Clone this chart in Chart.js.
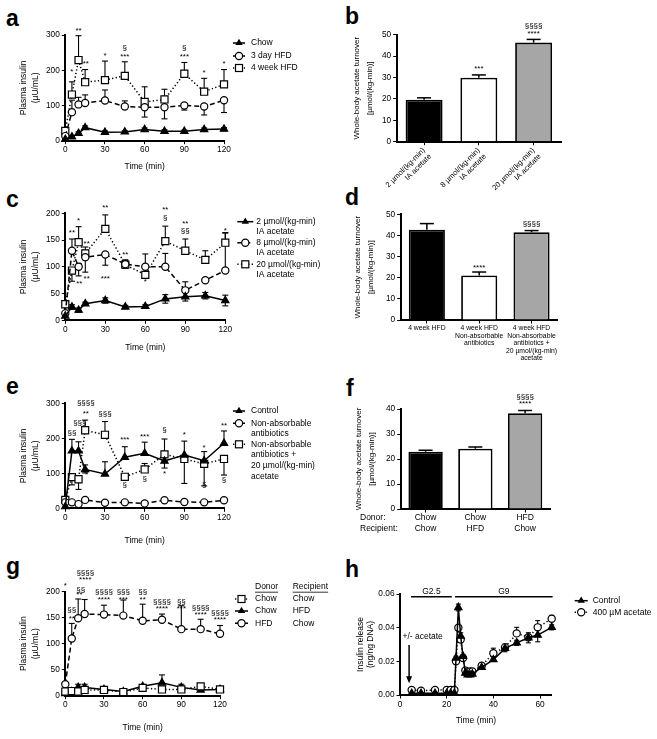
<!DOCTYPE html>
<html>
<head>
<meta charset="utf-8">
<title>Plasma insulin and whole-body acetate turnover</title>
<script src="https://cdn.jsdelivr.net/npm/chart.js@4.4.1/dist/chart.umd.min.js"></script>
<style>
  html, body { margin:0; padding:0; background:#fff; }
  #fig { position:relative; width:657px; height:739px; overflow:hidden; background:#fff; }
  #fig canvas { position:absolute; }
  .panel-letter { position:absolute; font-family:"Liberation Sans", Arial, Helvetica, sans-serif; font-weight:bold; font-size:23px; line-height:23px; color:#000; }
</style>
</head>
<body>
<div id="fig">
  <div class="panel-letter" style="left:6px; top:7px;">a</div>
  <div class="panel-letter" style="left:345px; top:5px;">b</div>
  <div class="panel-letter" style="left:6px; top:188px;">c</div>
  <div class="panel-letter" style="left:345px; top:186px;">d</div>
  <div class="panel-letter" style="left:6px; top:375px;">e</div>
  <div class="panel-letter" style="left:346px; top:377px;">f</div>
  <div class="panel-letter" style="left:6px; top:555px;">g</div>
  <div class="panel-letter" style="left:345px; top:558px;">h</div>
</div>
<script>
// ======================= DATA =======================
const timePoints = [0, 5, 10, 15, 30, 45, 60, 75, 90, 105, 120];
const timeTicks = [0, 30, 60, 90, 120];

// ---- panel a ----
const aYTicks = [0, 100, 200, 300];
const aChow = [4, 11, 21, 37, 24, 25, 32, 27, 27, 32, 33];
const aChowErr = [2, 3, 4, 5, 4, 3, 4, 4, 3, 4, 4];
const aHfd3 = [13, 81, 103, 107, 114, 97, 95, 95, 100, 97, 115];
const aHfd3Up = [4, 34, 20, 23, 30, 16, 0, 0, 0, 0, 0];
const aHfd3Down = [4, 0, 0, 0, 0, 0, 28, 33, 13, 24, 35];
const aHfd4 = [28, 131, 229, 166, 172, 184, 110, 117, 190, 139, 160];
const aHfd4Up = [6, 36, 69, 36, 54, 40, 43, 29, 32, 38, 42];
const aLegend = [['Chow'], ['3 day HFD'], ['4 week HFD']];
const aMarks = [[5, 196, '*'], [10, 311, '**'], [15.5, 217, '**'], [30, 240, '*'], [45, 237, '***'], [45, 264, '§'],
                [90, 237, '***'], [90, 264, '§'], [105, 193, '*'], [120, 217, '*']];

// ---- panel b ----
const bCategories = [['2 µmol/(kg-min)', 'IA acetate'], ['8 µmol/(kg-min)', 'IA acetate'], ['20 µmol/(kg-min)', 'IA acetate']];
const bValues = [19.6, 29.9, 46.3];
const bErr = [0.9, 1.3, 1.5];
const bYTicks = [0, 10, 20, 30, 40, 50];
const bMarks = [[1, 34, '***'], [2, 50.6, '****'], [2, 54, '§§§§']];

// ---- panel c ----
const cYTicks = [0, 50, 100, 150, 200];
const cLow = [8, 25, 19, 31, 37, 25, 26, 40, 44, 46, 37];
const cLowErr = [2, 4, 4, 3, 5, 3, 3, 8, 8, 6, 10];
const cMid = [13, 130, 100, 118, 123, 105, 100, 100, 56, 75, 93];
const cMidUp = [3, 22, 0, 0, 0, 8, 24, 25, 16, 0, 70];
const cMidDown = [3, 0, 17, 28, 20, 8, 0, 0, 0, 0, 0];
const cHigh = [30, 93, 146, 125, 171, 104, 85, 148, 130, 113, 145];
const cHighUp = [5, 0, 29, 12, 26, 8, 0, 28, 22, 17, 19];
const cHighDown = [5, 20, 0, 0, 0, 0, 0, 0, 0, 0, 0];
const cLegend = [['2 µmol/(kg-min)', 'IA acetate'], ['8 µmol/(kg-min)', 'IA acetate'], ['20 µmol/(kg-min)', 'IA acetate']];
const cMarks = [[5, 163, '**'], [10, 186, '*'], [16, 143, '**'], [30, 211, '**'], [45, 122, '**'], [75, 207, '**'], [75, 192, '§'],
                [90, 181, '**'], [90, 167, '§§'], [120, 167, '*'], [10.5, 69, '**'], [16, 78, '**'], [30, 77, '***'], [60, 72, '*']];

// ---- panel d ----
const dCategories = [['4 week HFD'], ['4 week HFD', 'Non-absorbable', 'antibiotics'],
                     ['4 week HFD', 'Non-absorbable', 'antibiotics +', '20 µmol/(kg-min)', 'acetate']];
const dValues = [42.7, 21.1, 41.5];
const dErr = [2.9, 1.6, 0.8];
const dYTicks = [0, 10, 20, 30, 40, 50];
const dMarks = [[1, 24.9, '****'], [2, 45.7, '§§§§']];

// ---- panel e ----
const eYTicks = [0, 100, 200, 300];
const eCtrl = [5, 164, 164, 111, 98, 146, 157, 135, 152, 136, 186];
const eCtrlUp = [0, 33, 26, 13, 35, 30, 32, 0, 40, 26, 35];
const eCtrlDown = [0, 0, 0, 10, 0, 0, 0, 20, 0, 0, 0];
const eAbx = [17, 17, 12, 24, 16, 17, 14, 23, 18, 17, 23];
const eAbxErr = [3, 3, 3, 3, 3, 3, 3, 3, 3, 3, 3];
const eAbxAc = [24, 89, 83, 223, 210, 90, 111, 154, 141, 127, 141];
const eAbxAcUp = [0, 0, 0, 29, 38, 0, 17, 44, 0, 0, 0];
const eAbxAcDown = [4, 22, 29, 0, 0, 10, 0, 0, 70, 63, 46];
const eLegend = [['Control'], ['Non-absorbable', 'antibiotics'], ['Non-absorbable', 'antibiotics +', '20 µmol/(kg-min)', 'acetate']];
const eMarks = [[5, 216, '§§'], [11, 243, '§§§'], [15.5, 302, '§§§§'], [15.5, 270, '**'], [30, 270, '§§§'], [45, 197, '***'],
                [60, 205, '***'], [75, 224, '§'], [90, 211, '*'], [105, 174, '*'], [120, 235, '**'],
                [16, 95, '*'], [45, 67, '§'], [60, 83, '§'], [75, 100, '*'], [105, 67, '§'], [120, 81, '§']];

// ---- panel f ----
const fCategories = [['Chow', 'Chow'], ['Chow', 'HFD'], ['HFD', 'Chow']];
const fRowNames = ['Donor:', 'Recipient:'];
const fValues = [22.9, 24.1, 38.3];
const fErr = [0.6, 0.7, 1.1];
const fYTicks = [0, 10, 20, 30, 40];
const fMarks = [[2, 42, '****'], [2, 45, '§§§§']];

// ---- panel g ----
const gYTicks = [0, 50, 100, 150, 200];
const gChowChow = [8, 9, 8, 11, 11, 7, 15, 12, 12, 18, 12];
const gChowChowErr = [2, 2, 2, 2, 2, 2, 2, 2, 3, 3, 2];
const gChowHfd = [4, 8, 16, 16, 12, 8, 18, 25, 16, 11, 12];
const gChowHfdUp = [1, 2, 6, 6, 2, 2, 3, 15, 6, 2, 2];
const gHfdChow = [22, 110, 149, 157, 156, 154, 144, 146, 128, 128, 119];
const gHfdChowUp = [0, 29, 37, 28, 18, 30, 32, 11, 45, 19, 16];
const gLegendHeader = ['Donor', 'Recipient'];
const gLegend = [['Chow', 'Chow'], ['Chow', 'HFD'], ['HFD', 'Chow']];
const gMarks = [[0, 211, '*'], [5, 166, '§§'], [5, 147, '**'], [12, 203, '§§'], [11, 194, '**'], [15.5, 237, '§§§§'], [15.5, 222, '****'],
                [30, 199, '§§§§'], [30, 184, '****'], [45, 199, '§§§'], [45, 184, '***'], [60, 199, '§§'], [60, 184, '**'],
                [75, 181, '§§§§'], [75, 167, '****'], [90, 181, '§§'], [90, 167, '***'], [105, 170, '§§§§'], [105, 155, '****'],
                [120, 160, '§§§§'], [120, 146, '****']];

// ---- panel h ----
const hTime = [5, 9, 15, 20, 21.7, 23.3, 24, 25, 26, 27, 28, 29, 30, 31, 35, 40, 45, 50, 55, 59, 65];
const hXTicks = [0, 20, 40, 60];
const hYTicks = [0, 0.02, 0.04, 0.06];
const hControl = [0.001, 0.001, 0.001, 0.001, 0.001, 0.001, 0.022, 0.052, 0.035, 0.023, 0.013, 0.012, 0.012, 0.0125,
                  0.0164, 0.021, 0.0277, 0.031, 0.034, 0.0356, 0.0402];
const hControlErr = [0, 0, 0, 0, 0, 0, 0.001, 0.002, 0.002, 0.001, 0.001, 0.001, 0.001, 0.001,
                     0.001, 0.001, 0.002, 0.0015, 0.003, 0.004, 0.0015];
const hAcetate = [0.003, 0.0025, 0.003, 0.003, 0.003, 0.003, 0.020, 0.040, 0.033, 0.022, 0.0145, 0.0135, 0.014, 0.014,
                  0.0174, 0.0248, 0.0283, 0.0366, 0.0343, 0.0402, 0.0453];
const hAcetateUp = [0, 0, 0, 0, 0, 0, 0, 0.001, 0.001, 0.001, 0.001, 0.001, 0.001, 0.001,
                    0.001, 0.003, 0.002, 0.0036, 0.001, 0.004, 0.002];
const hLegend = [['Control'], ['400 µM acetate']];
const hPhases = [['G2.5', 4.7, 22.2], ['G9', 23.6, 65.4]];
const hPhaseLevel = 0.0584;
const hArrow = {x: 3.9, from: 0.0297, to: 0.007, labelX: 9.7, labelY: 0.0345, label: '+/- acetate'};

// ======================= RENDERING =======================
const FF = '"Liberation Sans", Arial, Helvetica, sans-serif';
Chart.defaults.font.family = FF;
Chart.defaults.color = '#000';

const TICK_FONT = {family: FF, size: 8.3};
const LINE_TITLE_FONT = {family: FF, size: 8.5, lineHeight: 1.35};
const BAR_TITLE_FONT = {family: FF, size: 8, lineHeight: 1.66};
const H_TITLE_FONT = {family: FF, size: 8.5, lineHeight: 1.18};
const lh = f => f.size * f.lineHeight;

function addCanvas(rect) {
  const c = document.createElement('canvas');
  c.width = rect.w; c.height = rect.h;
  c.style.left = rect.x + 'px'; c.style.top = rect.y + 'px';
  c.style.width = rect.w + 'px'; c.style.height = rect.h + 'px';
  document.getElementById('fig').appendChild(c);
  return c;
}

function computeLayout(rect, area, yTitleX, yLH, xTitleY, xLH, xHeight) {
  const yLeft = yTitleX - yLH / 2;
  const W = area.l - yLeft;
  const sb = (xTitleY != null) ? xTitleY + xLH / 2 : area.b + xHeight;
  return {
    padding: {left: yLeft - rect.x, top: area.t - rect.y, right: rect.x + rect.w - area.r, bottom: rect.y + rect.h - sb},
    W: W, H: sb - area.b
  };
}

const setTicks = values => scale => { scale.ticks = values.map(v => ({value: v})); };

function gridOpts(extra) {
  return Object.assign({display: true, drawOnChartArea: false, drawTicks: true, tickLength: 3.5, color: '#000', lineWidth: 1}, extra || {});
}

function yAxis(min, max, ticks, W, title, titleFont, fmt) {
  return {
    type: 'linear', position: 'left', min: min, max: max,
    afterBuildTicks: setTicks(ticks),
    afterFit: s => { s.width = W; s.paddingTop = 0; s.paddingBottom = 0; },
    grid: gridOpts(),
    border: {display: true, color: '#000', width: 2},
    ticks: {color: '#000', font: TICK_FONT, padding: 2, callback: fmt || (v => String(v))},
    title: {display: true, text: title, color: '#000', font: titleFont, padding: 0}
  };
}

function xAxisLinear(min, max, ticks, H) {
  return {
    type: 'linear', position: 'bottom', min: min, max: max,
    afterBuildTicks: setTicks(ticks),
    afterFit: s => { s.height = H; s.paddingLeft = 0; s.paddingRight = 0; },
    grid: gridOpts(),
    border: {display: true, color: '#000', width: 2},
    ticks: {color: '#000', font: TICK_FONT, padding: 1, maxRotation: 0, autoSkip: false, callback: v => String(v)},
    title: {display: true, text: 'Time (min)', color: '#000', font: LINE_TITLE_FONT, padding: 0}
  };
}

const DASH = {tri: [], circ: [5, 3], sq: [1.3, 2.3], dot: [1.3, 2.3]};

function series(xs, ys, style, errUp, errDown, capHalf, dash) {
  const ds = {
    data: xs.map((x, i) => ({x: x, y: ys[i]})),
    borderColor: '#000', borderWidth: 1.5, fill: false, tension: 0, clip: false,
    pointBorderColor: '#000', pointBorderWidth: 1.2, pointHoverRadius: 0,
    errUp: errUp, errDown: errDown, capHalf: capHalf || 3
  };
  if (style === 'tri') Object.assign(ds, {pointStyle: 'triangle', pointRadius: 4.2, pointBackgroundColor: '#000'});
  if (style === 'circ') Object.assign(ds, {pointStyle: 'circle', pointRadius: 3.6, pointBackgroundColor: '#fff'});
  if (style === 'sq') Object.assign(ds, {pointStyle: 'rect', pointRadius: 5, pointBackgroundColor: '#fff'});
  ds.borderDash = dash || DASH[style];
  return ds;
}

function strokeLine(ctx, x0, y0, x1, y1) { ctx.beginPath(); ctx.moveTo(x0, y0); ctx.lineTo(x1, y1); ctx.stroke(); }

function drawSymbol(ctx, style, x, y) {
  ctx.save(); ctx.setLineDash([]); ctx.lineWidth = 1.2; ctx.strokeStyle = '#000';
  if (style === 'tri') {
    ctx.fillStyle = '#000'; ctx.beginPath();
    ctx.moveTo(x, y - 4.2); ctx.lineTo(x + 3.7, y + 2.1); ctx.lineTo(x - 3.7, y + 2.1); ctx.closePath(); ctx.fill();
  } else if (style === 'circ') {
    ctx.fillStyle = '#fff'; ctx.beginPath(); ctx.arc(x, y, 3.6, 0, Math.PI * 2); ctx.fill(); ctx.stroke();
  } else {
    ctx.fillStyle = '#fff'; ctx.fillRect(x - 3.5, y - 3.5, 7, 7); ctx.strokeRect(x - 3.5, y - 3.5, 7, 7);
  }
  ctx.restore();
}

function drawLineErrors(chart) {
  const ctx = chart.ctx, xs = chart.scales.x, ys = chart.scales.y;
  ctx.save(); ctx.strokeStyle = '#000'; ctx.lineWidth = 1.1; ctx.setLineDash([]);
  chart.data.datasets.forEach(ds => {
    ds.data.forEach((p, i) => {
      const px = xs.getPixelForValue(p.x), py = ys.getPixelForValue(p.y);
      [[ds.errUp, 1], [ds.errDown, -1]].forEach(([arr, sgn]) => {
        if (!arr || !arr[i]) return;
        const ey = ys.getPixelForValue(p.y + sgn * arr[i]);
        strokeLine(ctx, px, py, px, ey);
        strokeLine(ctx, px - ds.capHalf, ey, px + ds.capHalf, ey);
      });
    });
  });
  ctx.restore();
}

function drawBarErrors(chart) {
  const ctx = chart.ctx, ys = chart.scales.y;
  ctx.save(); ctx.strokeStyle = '#000'; ctx.lineWidth = 1.5; ctx.setLineDash([]);
  chart.data.datasets.forEach((ds, j) => {
    const meta = chart.getDatasetMeta(j);
    ds.data.forEach((v, i) => {
      const el = meta.data[i];
      const ey = ys.getPixelForValue(v + ds.errUp[i]);
      strokeLine(ctx, el.x, el.y, el.x, ey);
      strokeLine(ctx, el.x - 7, ey, el.x + 7, ey);
    });
  });
  ctx.restore();
}

function drawMarks(chart, marks) {
  const ctx = chart.ctx, xs = chart.scales.x, ys = chart.scales.y;
  ctx.save(); ctx.fillStyle = '#000'; ctx.font = '8px ' + FF; ctx.textAlign = 'center'; ctx.textBaseline = 'middle';
  marks.forEach(([x, y, t]) => ctx.fillText(t, xs.getPixelForValue(x), ys.getPixelForValue(y)));
  ctx.restore();
}

function drawLegend(chart, lg) {
  const ctx = chart.ctx, A = chart.chartArea;
  ctx.save();
  ctx.font = '8.5px ' + FF; ctx.fillStyle = '#000'; ctx.textBaseline = 'middle'; ctx.textAlign = 'left';
  if (lg.header) {
    lg.header.forEach((txt, m) => {
      const x = A.right + lg.cols[m], y = A.top + lg.headerY;
      ctx.fillText(txt, x, y);
      const w = ctx.measureText(txt).width;
      ctx.lineWidth = 0.8; ctx.strokeStyle = '#000';
      strokeLine(ctx, x, y + 5.5, x + w, y + 5.5);
    });
  }
  lg.items.forEach((it, k) => {
    const y = A.top + lg.rows[k];
    const x0 = A.right + lg.sx0, x1 = A.right + lg.sx1;
    ctx.strokeStyle = '#000'; ctx.lineWidth = 1.5; ctx.setLineDash(it.dash || DASH[it.style]);
    strokeLine(ctx, x0, y, x1, y); ctx.setLineDash([]);
    drawSymbol(ctx, it.style, (x0 + x1) / 2, y);
    if (lg.cols) it.text.forEach((t, m) => ctx.fillText(t, A.right + lg.cols[m], y));
    else it.text.forEach((t, m) => ctx.fillText(t, A.right + lg.tx, y + m * lg.lh));
  });
  ctx.restore();
}

function decorPlugin(spec) {
  return {
    id: 'decor',
    beforeDatasetsDraw(chart) { if (spec.kind === 'line') drawLineErrors(chart); },
    afterDatasetsDraw(chart) {
      if (spec.kind === 'bar') drawBarErrors(chart);
      if (spec.marks) drawMarks(chart, spec.marks);
      if (spec.legend) drawLegend(chart, spec.legend);
      if (spec.extra) spec.extra(chart);
    }
  };
}

const baseOptions = padding => ({
  responsive: false, animation: false, devicePixelRatio: 1, events: [],
  layout: {padding: padding, autoPadding: false},
  plugins: {legend: {display: false}, tooltip: {enabled: false}, title: {display: false}}
});

function buildLinePanel(p) {
  const cv = addCanvas(p.rect);
  const tf = p.yTitleFont || LINE_TITLE_FONT;
  const L = computeLayout(p.rect, p.area, p.yTitleX, lh(tf), p.xTitleY, lh(LINE_TITLE_FONT));
  const opts = baseOptions(L.padding);
  opts.scales = {
    x: xAxisLinear(p.xMin, p.xMax, p.xTicks, L.H),
    y: yAxis(p.yMin, p.yMax, p.yTicks, L.W, p.yTitle, tf, p.yFmt)
  };
  return new Chart(cv, {type: 'line', data: {datasets: p.datasets}, options: opts, plugins: [decorPlugin(Object.assign({kind: 'line'}, p))]});
}

function buildBarPanel(p) {
  const cv = addCanvas(p.rect);
  const L = computeLayout(p.rect, p.area, p.yTitleX, lh(BAR_TITLE_FONT), null, 0, p.xHeight);
  const opts = baseOptions(L.padding);
  opts.scales = {
    x: {
      type: 'category', position: 'bottom', offset: true,
      afterFit: s => { s.height = L.H; s.paddingLeft = 0; s.paddingRight = 0; },
      grid: gridOpts({offset: false}),
      border: {display: true, color: '#000', width: 2},
      ticks: Object.assign({color: '#000', autoSkip: false, padding: 1}, p.xTickOpts)
    },
    y: yAxis(p.yMin, p.yMax, p.yTicks, L.W, ['Whole-body acetate turnover', '[µmol/(kg-min)]'], BAR_TITLE_FONT)
  };
  return new Chart(cv, {
    type: 'bar',
    data: {labels: p.labels, datasets: [{
      data: p.values, errUp: p.err,
      backgroundColor: ['#000000', '#ffffff', '#a6a6a6'], borderColor: '#000', borderWidth: 1.8,
      categoryPercentage: 1, barPercentage: p.barPct
    }]},
    options: opts,
    plugins: [decorPlugin(Object.assign({kind: 'bar'}, p))]
  });
}

// ---------- panel a ----------
buildLinePanel({
  rect: {x: 0, y: 0, w: 330, h: 178}, area: {l: 65.3, t: 35, r: 224, b: 140.7},
  yTitleX: 24, xTitleY: 167, xMin: 0, xMax: 120, xTicks: timeTicks, yMin: 0, yMax: 300, yTicks: aYTicks,
  yTitle: ['Plasma insulin', '(µU/mL)'],
  datasets: [
    series(timePoints, aChow, 'tri', aChowErr, aChowErr),
    series(timePoints, aHfd3, 'circ', aHfd3Up, aHfd3Down),
    series(timePoints, aHfd4, 'sq', aHfd4Up, null)
  ],
  marks: aMarks,
  legend: {sx0: 9, sx1: 21, tx: 27, lh: 10.5, rows: [8, 21, 33],
           items: [{style: 'tri', text: aLegend[0]}, {style: 'circ', text: aLegend[1]}, {style: 'sq', text: aLegend[2]}]}
});

// ---------- panel b ----------
buildBarPanel({
  rect: {x: 330, y: 0, w: 327, h: 200}, area: {l: 396.7, t: 34.7, r: 561, b: 141.7},
  yTitleX: 357, xHeight: 55, yMin: 0, yMax: 50, yTicks: bYTicks,
  labels: bCategories, values: bValues, err: bErr, barPct: 0.675,
  xTickOpts: {font: {family: FF, size: 7.5, lineHeight: 1.15}, minRotation: 45, maxRotation: 45},
  marks: bMarks
});

// ---------- panel c ----------
buildLinePanel({
  rect: {x: 0, y: 170, w: 330, h: 185}, area: {l: 65.3, t: 213.3, r: 225.3, b: 320.3},
  yTitleX: 24, xTitleY: 348, xMin: 0, xMax: 120, xTicks: timeTicks, yMin: 0, yMax: 200, yTicks: cYTicks,
  yTitle: ['Plasma insulin', '(µU/mL)'],
  datasets: [
    series(timePoints, cLow, 'tri', cLowErr, cLowErr),
    series(timePoints, cMid, 'circ', cMidUp, cMidDown),
    series(timePoints, cHigh, 'sq', cHighUp, cHighDown)
  ],
  marks: cMarks,
  legend: {sx0: 12, sx1: 28, tx: 31, lh: 10, rows: [8.4, 29.4, 51],
           items: [{style: 'tri', text: cLegend[0]}, {style: 'circ', text: cLegend[1]}, {style: 'sq', text: cLegend[2]}]}
});

// ---------- panel d ----------
buildBarPanel({
  rect: {x: 330, y: 170, w: 327, h: 195}, area: {l: 400.7, t: 214.3, r: 557.7, b: 320},
  yTitleX: 358, xHeight: 42, yMin: 0, yMax: 50, yTicks: dYTicks,
  labels: dCategories, values: dValues, err: dErr, barPct: 0.69,
  xTickOpts: {font: {family: FF, size: 6.8, lineHeight: 1.1}, maxRotation: 0, minRotation: 0},
  marks: dMarks
});

// ---------- panel e ----------
buildLinePanel({
  rect: {x: 0, y: 370, w: 330, h: 180}, area: {l: 65.3, t: 403.3, r: 224, b: 508.3},
  yTitleX: 24, xTitleY: 541, xMin: 0, xMax: 120, xTicks: timeTicks, yMin: 0, yMax: 300, yTicks: eYTicks,
  yTitle: ['Plasma insulin', '(µU/mL)'],
  datasets: [
    series(timePoints, eCtrl, 'tri', eCtrlUp, eCtrlDown),
    series(timePoints, eAbx, 'circ', eAbxErr, eAbxErr),
    series(timePoints, eAbxAc, 'sq', eAbxAcUp, eAbxAcDown)
  ],
  marks: eMarks,
  legend: {sx0: 9, sx1: 21, tx: 27, lh: 10.7, rows: [7.7, 20, 41],
           items: [{style: 'tri', text: eLegend[0]}, {style: 'circ', text: eLegend[1]}, {style: 'sq', text: eLegend[2]}]}
});

// ---------- panel f ----------
buildBarPanel({
  rect: {x: 330, y: 365, w: 327, h: 175}, area: {l: 400.7, t: 409, r: 550, b: 509},
  yTitleX: 359, xHeight: 25, yMin: 0, yMax: 40, yTicks: fYTicks,
  labels: fCategories, values: fValues, err: fErr, barPct: 0.69,
  xTickOpts: {font: {family: FF, size: 8.5, lineHeight: 1.25}, maxRotation: 0, minRotation: 0, padding: 0},
  marks: fMarks,
  extra(chart) {
    const ctx = chart.ctx, A = chart.chartArea;
    ctx.save(); ctx.fillStyle = '#000'; ctx.font = '8.5px ' + FF; ctx.textAlign = 'left'; ctx.textBaseline = 'middle';
    const rowH = 8.5 * 1.25;
    fRowNames.forEach((t, k) => ctx.fillText(t, A.left - 40.7, A.bottom + 3.5 + rowH * (k + 0.5)));
    ctx.restore();
  }
});

// ---------- panel g ----------
buildLinePanel({
  rect: {x: 0, y: 550, w: 330, h: 189}, area: {l: 65.3, t: 591.7, r: 220, b: 695.7},
  yTitleX: 24, xTitleY: 727.3, xMin: 0, xMax: 120, xTicks: timeTicks, yMin: 0, yMax: 200, yTicks: gYTicks,
  yTitle: ['Plasma insulin', '(µU/mL)'],
  datasets: [
    series(timePoints, gChowChow, 'sq', gChowChowErr, null),
    series(timePoints, gChowHfd, 'tri', gChowHfdUp, null),
    series(timePoints, gHfdChow, 'circ', gHfdChowUp, null)
  ],
  marks: gMarks,
  legend: {sx0: 15, sx1: 28, cols: [35, 72.7], header: gLegendHeader, headerY: -5, rows: [7.3, 19.3, 31.6],
           items: [{style: 'sq', text: gLegend[0]}, {style: 'tri', text: gLegend[1]}, {style: 'circ', text: gLegend[2]}]}
});

// ---------- panel h ----------
buildLinePanel({
  rect: {x: 330, y: 550, w: 327, h: 189}, area: {l: 400, t: 594, r: 551.7, b: 695},
  yTitleX: 360.7, yTitleFont: H_TITLE_FONT, xTitleY: 720.7, xMin: 0, xMax: 65, xTicks: hXTicks,
  yMin: 0, yMax: 0.06, yTicks: hYTicks, yFmt: v => Number(v).toFixed(2),
  yTitle: ['Insulin release', '(ng/ng DNA)'],
  datasets: [
    series(hTime, hControl, 'tri', hControlErr, hControlErr, 2.5),
    series(hTime, hAcetate, 'circ', hAcetateUp, null, 2.5, DASH.dot)
  ],
  legend: {sx0: 23, sx1: 36, tx: 41, lh: 10, rows: [6.7, 18.3],
           items: [{style: 'tri', text: hLegend[0]}, {style: 'circ', text: hLegend[1], dash: DASH.dot}]},
  extra(chart) {
    const ctx = chart.ctx, xs = chart.scales.x, ys = chart.scales.y;
    ctx.save(); ctx.strokeStyle = '#000'; ctx.fillStyle = '#000'; ctx.lineWidth = 1.5; ctx.setLineDash([]);
    ctx.font = '8.5px ' + FF; ctx.textAlign = 'center'; ctx.textBaseline = 'bottom';
    const py = ys.getPixelForValue(hPhaseLevel);
    hPhases.forEach(([name, x0, x1]) => {
      strokeLine(ctx, xs.getPixelForValue(x0), py, xs.getPixelForValue(x1), py);
      ctx.fillText(name, xs.getPixelForValue((x0 + x1) / 2), py - 1);
    });
    const ax = xs.getPixelForValue(hArrow.x);
    const aTop = ys.getPixelForValue(hArrow.from), aTip = ys.getPixelForValue(hArrow.to);
    strokeLine(ctx, ax, aTop, ax, aTip - 5);
    ctx.beginPath(); ctx.moveTo(ax - 3, aTip - 7); ctx.lineTo(ax + 3, aTip - 7); ctx.lineTo(ax, aTip); ctx.closePath(); ctx.fill();
    ctx.textBaseline = 'middle';
    ctx.fillText(hArrow.label, xs.getPixelForValue(hArrow.labelX), ys.getPixelForValue(hArrow.labelY));
    ctx.restore();
  }
});
</script>
</body>
</html>
